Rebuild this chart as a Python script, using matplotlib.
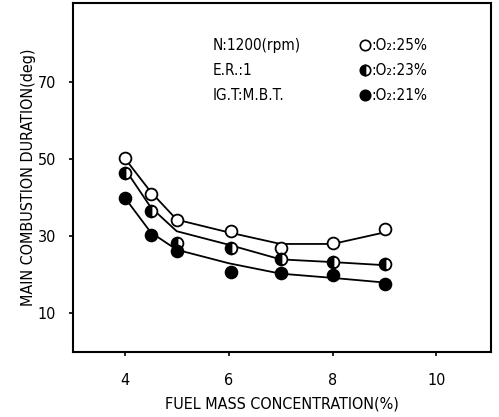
import numpy as np
import matplotlib.pyplot as plt

plt.rcParams['font.family'] = ['DejaVu Sans']
plt.rcParams['font.stretch'] = 'condensed'

# fuel mass concentration (%)
conc = [4.0, 4.5, 5.0, 6.05, 7.0, 8.0, 9.0]

# measured points, main combustion duration (deg)
o2_25 = [50.2, 41.0, 34.1, 31.3, 27.0, 28.3, 31.9]
o2_23 = [46.5, 36.5, 28.3, 27.0, 24.1, 23.2, 22.7]
o2_21 = [39.9, 30.4, 26.2, 20.8, 20.4, 19.9, 17.5]

# faired curves drawn through the points
curve_x = [4.0, 4.5, 5.0, 6.0, 7.0, 8.0, 9.0]
curve_25 = [50.2, 41.5, 34.3, 31.0, 28.0, 28.0, 31.0]
curve_23 = [47.5, 37.5, 31.3, 27.8, 24.0, 23.3, 22.5]
curve_21 = [40.0, 31.0, 26.5, 23.0, 20.3, 19.2, 18.0]

conditions = ["N:1200(rpm)", "E.R.:1", "IG.T:M.B.T."]
legend_labels = [":O₂:25%", ":O₂:23%", ":O₂:21%"]

fig = plt.figure(figsize=(4.99, 4.17), dpi=100)
ax = fig.add_axes([0.146, 0.156, 0.838, 0.837])

for cy in [curve_25, curve_23, curve_21]:
    ax.plot(curve_x, cy, color='black', lw=1.3, zorder=2)

styles = [dict(mfc='white'),
          dict(fillstyle='left', color='black', markerfacecoloralt='white'),
          dict(mfc='black')]

mk = dict(marker='o', ms=8.5, mec='black', mew=1.3, ls='none', zorder=3)
for ys, st in zip([o2_25, o2_23, o2_21], styles):
    ax.plot(conc, ys, **mk, **st)

# annotation block
for i, t in enumerate(conditions):
    ax.text(5.69, 79.5 - 6.5 * i, t, fontsize=11, va='center', ha='left')

for i, (lab, st) in enumerate(zip(legend_labels, styles)):
    yy = 79.5 - 6.5 * i
    ax.plot([8.62], [yy], marker='o', ms=7.5, mec='black', mew=1.2, ls='none', **st)
    ax.text(8.74, yy, lab, fontsize=11, va='center', ha='left')

ax.set_xlim(3, 11.05)
ax.set_ylim(0, 90.5)
ax.set_xticks([4, 6, 8, 10])
ax.set_yticks([10, 30, 50, 70])
ax.tick_params(direction='out', length=3, width=1.2, labelsize=11.5)
ax.tick_params(axis='x', pad=12)
ax.tick_params(axis='y', pad=9)
for s in ax.spines.values():
    s.set_linewidth(1.5)

ax.set_xlabel("FUEL MASS CONCENTRATION(%)", fontsize=11.5, labelpad=6)
ax.set_ylabel("MAIN COMBUSTION DURATION(deg)", fontsize=11.5, labelpad=1)

fig.savefig("out.png", dpi=100)
